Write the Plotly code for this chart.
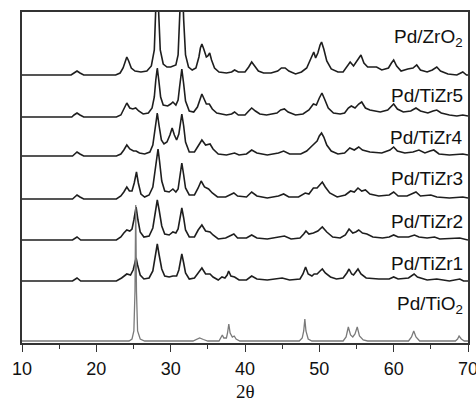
import plotly.graph_objects as go

# 2-theta / intensity vertices (intensity in arbitrary units above each baseline)
zro2_pts = [(10,0),(16.6,0),(17.0,2),(17.4,4),(17.8,2),(18.3,0),(22.6,0),(23.2,2),(23.6,7),(23.9,14),(24.1,18),
            (24.35,14),(24.7,7),(25.2,4),(26.0,3),(26.8,4),(27.4,9),(27.8,25),(28.0,60),(28.2,110),(28.4,60),
            (28.6,25),(29.0,11),(29.5,8),(30.0,8),(30.3,9),(30.7,10),(31.0,20),(31.25,55),(31.5,110),(31.75,55),
            (32.0,20),(32.4,8),(32.9,5),(33.4,7),(33.8,18),(34.0,27),(34.2,31),(34.45,26),(34.8,18),(35.0,19),
            (35.25,22),(35.5,15),(35.9,7),(36.5,3),(37.5,2),(38.2,3),(38.6,5),(39.1,3),(40.0,3),(40.5,8),(40.9,13),
            (41.3,9),(41.8,4),(42.5,2),(43.5,2),(44.4,4),(44.9,7),(45.4,7),(45.9,4),(46.8,1),(47.6,3),(48.3,7),
            (48.8,15),(49.1,21),(49.25,23),(49.5,17),(49.8,22),(50.1,30),(50.3,33),(50.6,26),(51.0,14),(51.6,6),
            (52.5,3),(53.2,3),(53.7,9),(54.15,13),(54.6,9),(55.1,14),(55.6,20),(56.0,12),(56.5,8),(57.2,8),
            (57.7,8),(58.4,5),(59.3,7),(59.7,12),(60.0,15),(60.4,9),(61.0,4),(61.9,6),(62.6,7),(63.1,10),(63.6,5),
            (64.5,3),(65.2,5),(65.8,8),(66.3,4),(67.3,1),(68.5,0),(69.3,3),(69.8,0),(70,0)]
tizr5_pts = [(10,0),(16.7,0),(17.0,2),(17.4,4),(17.8,2),(18.3,0),(22.7,0),(23.3,2),(23.7,8),(24.1,14),(24.5,9),
             (24.9,8),(25.3,9),(25.7,6),(26.3,3),(27.0,4),(27.5,9),(27.8,20),(28.0,37),(28.2,49),(28.4,37),
             (28.65,20),(29.0,12),(29.6,11),(30.0,13),(30.3,15),(30.7,12),(31.0,17),(31.2,30),(31.5,48),(31.75,33),
             (32.0,16),(32.5,6),(33.1,5),(33.6,10),(33.95,19),(34.2,23),(34.5,18),(34.8,13),(35.2,13),(35.6,8),
             (36.2,4),(37.5,2),(38.2,3),(38.6,5),(39.1,2),(40.0,2),(40.5,6),(40.9,9),(41.4,6),(42.0,3),(42.9,2),
             (44.3,4),(44.8,7),(45.3,8),(45.8,5),(46.8,2),(47.8,3),(48.6,7),(49.2,13),(49.6,12),(50.0,19),
             (50.35,24),(50.7,18),(51.2,9),(51.9,4),(52.8,3),(53.4,4),(53.9,9),(54.3,11),(54.8,9),(55.3,13),
             (55.7,15),(56.2,9),(56.8,7),(57.5,6),(58.2,5),(59.2,7),(59.7,11),(60.0,13),(60.5,8),(61.3,5),(62.3,6),
             (63.0,9),(63.6,6),(64.6,4),(65.3,6),(65.8,7),(66.4,4),(67.5,2),(68.5,1),(69.3,2),(70,1)]
tizr4_pts = [(10,0),(16.8,0),(17.1,2),(17.4,4),(17.8,2),(18.3,0),(22.7,0),(23.3,2),(23.7,6),(24.1,11),(24.5,7),
             (25.0,5),(25.35,5),(25.8,3),(26.5,2),(27.2,4),(27.6,11),(27.9,26),(28.2,43),(28.45,30),(28.75,16),
             (29.1,12),(29.5,14),(29.9,21),(30.2,28),(30.5,21),(30.8,16),(31.1,22),(31.3,33),(31.5,42),(31.75,30),
             (32.0,14),(32.5,4),(33.2,4),(33.7,10),(34.2,16),(34.7,11),(35.3,12),(35.7,7),(36.4,2),(37.5,1),(38.6,3),
             (39.2,1),(40.2,2),(40.9,6),(41.6,3),(43.0,1),(44.5,3),(45.2,5),(46.0,2),(47.5,2),(48.3,5),(49.0,10),
             (49.3,12),(49.7,15),(50.0,20),(50.3,23),(50.6,19),(51.0,11),(51.6,5),(52.5,2),(53.4,3),(54.1,8),
             (54.7,6),(55.3,9),(55.8,6),(56.8,4),(58.4,3),(59.5,6),(60.0,9),(60.5,5),(61.5,3),(62.6,4),(63.4,6),
             (64.2,3),(64.9,5),(65.4,6),(66.1,2),(67.5,1),(69.3,2),(70,1)]
tizr3_pts = [(10,0),(16.8,0),(17.1,2),(17.4,4),(17.8,2),(18.3,0),(22.7,0),(23.3,3),(23.7,7),(24.1,12),(24.45,8),
             (24.8,8),(25.1,16),(25.4,27),(25.65,16),(26.0,5),(26.5,2),(27.1,4),(27.6,12),(27.9,30),(28.1,44),
             (28.3,50),(28.5,38),(28.8,18),(29.2,8),(29.8,7),(30.3,10),(30.7,7),(31.0,10),(31.25,24),(31.5,36),
             (31.75,24),(32.0,11),(32.5,4),(33.2,4),(33.7,11),(34.1,18),(34.55,12),(35.1,10),(35.6,6),(36.3,2),
             (37.4,2),(37.9,4),(38.5,6),(39.0,3),(40.2,2),(40.9,7),(41.6,3),(43.0,1),(44.5,3),(45.2,5),(45.9,2),
             (47.2,2),(48.1,6),(48.6,5),(49.2,11),(49.7,11),(50.1,15),(50.4,17),(50.8,12),(51.4,6),(52.4,2),
             (53.5,4),(54.2,8),(54.7,7),(55.2,11),(55.7,8),(56.2,9),(56.8,5),(58.0,3),(59.4,4),(60.0,7),(60.6,3),
             (61.8,3),(62.4,5),(63.0,7),(63.6,3),(65.0,4),(65.8,2),(67.5,1),(69.3,2),(70,1)]
tizr2_pts = [(10,0),(16.8,0),(17.4,3),(17.9,0),(22.7,0),(23.3,3),(23.7,7),(24.1,10),(24.5,9),(24.8,11),(25.05,20),
             (25.35,33),(25.6,20),(25.9,8),(26.4,3),(27.1,4),(27.6,12),(27.9,26),(28.2,40),(28.45,30),(28.8,14),
             (29.2,6),(29.8,5),(30.3,8),(30.7,7),(31.0,11),(31.25,23),(31.5,32),(31.75,22),(32.0,10),(32.5,3),
             (33.2,3),(33.7,10),(34.2,15),(34.7,9),(35.3,8),(35.7,5),(36.4,1),(37.4,2),(37.9,4),(38.5,6),(39.0,2),
             (40.2,2),(40.9,5),(41.6,2),(43.0,1),(44.7,3),(45.3,4),(46.2,1),(47.4,2),(47.9,6),(48.2,9),(48.6,6),
             (49.2,7),(49.8,9),(50.4,13),(51.0,8),(51.8,3),(52.8,2),(53.5,5),(54.0,11),(54.5,7),(54.9,8),(55.3,10),
             (55.8,7),(56.4,6),(57.2,3),(58.5,2),(59.4,3),(60.0,5),(60.6,3),(62.0,3),(62.8,5),(63.4,3),(64.5,2),
             (65.5,3),(66.2,1),(68.9,2),(70,0)]
tizr1_pts = [(10,0),(16.8,0),(17.4,3),(17.9,0),(22.7,0),(23.4,3),(24.1,7),(24.6,6),(24.95,11),(25.2,18),(25.35,23),
             (25.55,16),(25.9,6),(26.4,2),(27.1,3),(27.6,10),(27.9,22),(28.2,37),(28.45,26),(28.8,12),(29.2,5),
             (29.8,4),(30.3,5),(30.8,5),(31.1,11),(31.3,20),(31.5,27),(31.75,18),(32.0,8),(32.5,2),(33.2,3),(33.7,8),
             (34.2,13),(34.7,7),(35.3,7),(35.7,4),(36.4,1),(36.9,4),(37.3,3),(37.6,6),(37.8,10),(38.1,5),(38.6,4),
             (39.2,1),(40.2,1),(40.9,5),(41.6,2),(43.0,1),(45.0,3),(46.0,1),(47.4,2),(47.8,7),(48.15,14),(48.5,7),
             (49.0,5),(49.3,7),(49.7,7),(50.1,10),(50.4,12),(50.8,8),(51.5,4),(52.3,2),(53.2,3),(53.7,8),(54.0,12),
             (54.35,7),(54.6,6),(54.9,9),(55.2,12),(55.6,7),(56.3,3),(58.0,2),(59.4,2),(60.0,4),(60.6,2),(62.0,3),
             (62.4,5),(62.75,7),(63.2,4),(64.5,1),(65.8,2),(67.5,0),(68.9,2),(69.4,0),(70,0)]
tio2_pts = [(10,0),(24.4,0),(24.8,2),(25.05,10),(25.2,50),(25.3,136),(25.4,50),(25.55,10),(25.9,2),(26.5,0),(33.0,0),
            (33.5,1.5),(33.9,3),(34.4,1.5),(35.0,0),(36.5,0),(36.75,3),(36.95,6),(37.15,3),(37.5,3),(37.65,8),
            (37.82,17),(38.0,8),(38.3,4),(38.55,5),(38.8,2),(39.3,0),(47.3,0),(47.7,3),(47.9,10),(48.05,22),(48.2,10),
            (48.5,2),(49.0,0),(53.2,0),(53.6,4),(53.9,14),(54.2,6),(54.5,4),(54.8,7),(55.1,14),(55.4,5),(55.9,1),
            (56.5,0),(62.0,0),(62.4,4),(62.7,10),(63.0,4),(63.5,0),(68.3,0),(68.6,2),(68.8,5),(69.1,2),(69.5,0),(70,0)]

sample_names = ["Pd/ZrO<sub>2</sub>", "Pd/TiZr5", "Pd/TiZr4", "Pd/TiZr3", "Pd/TiZr2", "Pd/TiZr1", "Pd/TiO<sub>2</sub>"]
sample_points = [zro2_pts, tizr5_pts, tizr4_pts, tizr3_pts, tizr2_pts, tizr1_pts, tio2_pts]
stack_offsets = [268, 226, 187, 144, 103, 62, 2]
label_y = [305, 248, 206, 165, 122, 80, 38]
line_colors = ["#1e1e1e"] * 6 + ["#7a7a7a"]
line_widths = [1.6] * 6 + [1.3]

x_ticks = [10, 20, 30, 40, 50, 60, 70]

fig = go.Figure()
for name, pts, off, col, lw in zip(sample_names, sample_points, stack_offsets, line_colors, line_widths):
    xs = [p[0] for p in pts]
    ys = [p[1] + off for p in pts]
    fig.add_trace(go.Scatter(x=xs, y=ys, mode="lines", name=name,
                             line=dict(color=col, width=lw),
                             showlegend=False, hoverinfo="skip"))

for name, ly in zip(sample_names, label_y):
    fig.add_annotation(x=69.6, y=ly, xref="x", yref="y", text=name, showarrow=False,
                       xanchor="right", yanchor="middle",
                       font=dict(family="Liberation Sans, Arial, sans-serif", size=19, color="#111"))

fig.add_annotation(x=0.5, y=-0.148, xref="paper", yref="paper", text="2θ", showarrow=False,
                   xanchor="center", yanchor="middle",
                   font=dict(family="Liberation Serif, Times New Roman, serif", size=19, color="#111"))

fig.update_layout(
    width=476, height=401,
    margin=dict(l=22, r=8, t=12, b=58, autoexpand=False),
    paper_bgcolor="white", plot_bgcolor="white",
    xaxis=dict(range=[10, 70], tickvals=x_ticks, ticks="outside", ticklen=7, tickwidth=1.2,
               tickcolor="#333", showline=True, linecolor="#333", linewidth=1.5, mirror=True,
               showgrid=False, zeroline=False, automargin=False, ticklabeloverflow="allow",
               ticklabelstandoff=2,
               tickfont=dict(family="Liberation Sans, Arial, sans-serif", size=18, color="#111"),
               minor=dict(dtick=5, ticks="outside", ticklen=4, tickcolor="#333", showgrid=False)),
    yaxis=dict(range=[0, 331], showticklabels=False, ticks="", showline=True, linecolor="#333",
               linewidth=1.5, mirror=True, showgrid=False, zeroline=False),
)

fig.write_html("out.html", config={"displayModeBar": False},
               post_script="document.body.style.margin='0px';document.body.style.overflow='hidden';")
